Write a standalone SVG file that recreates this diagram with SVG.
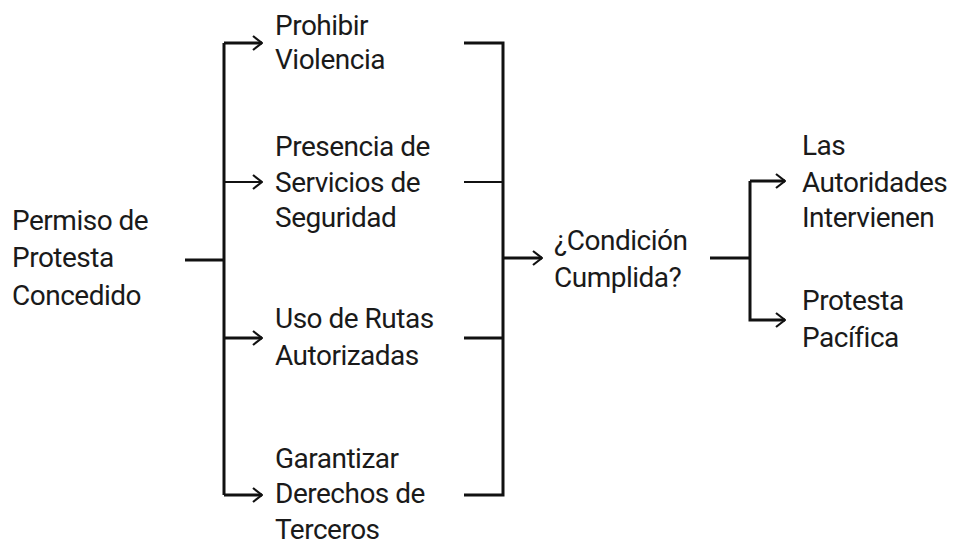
<svg xmlns="http://www.w3.org/2000/svg" width="953" height="544" viewBox="0 0 953 544">
<style>
text{font-family:Roboto,"Liberation Sans",sans-serif;font-size:28px;letter-spacing:-0.5px;fill:#1a1a1a}
.c{fill:none;stroke:#111;stroke-width:3}
.t{stroke-width:2}
</style>
<defs>
<marker id="ah" viewBox="0 0 12 16" refX="11" refY="8" markerWidth="12" markerHeight="16" markerUnits="userSpaceOnUse" orient="auto">
<path d="M2,1 L11,8 L2,15" fill="none" stroke="#111" stroke-width="2.2"/>
</marker>
</defs>
<rect width="953" height="544" fill="#fff"/>
<g id="connectors">
<path class="c" d="M185,260 H224"/>
<path class="c" d="M224,43 V495"/>
<path class="c" d="M224,43 H262" marker-end="url(#ah)"/>
<path class="c t" d="M224,182 H262" marker-end="url(#ah)"/>
<path class="c" d="M224,338 H262" marker-end="url(#ah)"/>
<path class="c" d="M224,495 H262" marker-end="url(#ah)"/>
<path class="c" d="M464,43 H503 V495 H464"/>
<path class="c t" d="M464,182 H503"/>
<path class="c" d="M464,338 H503"/>
<path class="c" d="M503,258 H542" marker-end="url(#ah)"/>
<path class="c" d="M710,258 H750"/>
<path class="c" d="M750,181 V320 H785" marker-end="url(#ah)"/>
<path class="c" d="M750,181 H785" marker-end="url(#ah)"/>
</g>
<g id="n-permiso"><text x="12" y="230">Permiso de</text><text x="12" y="267">Protesta</text><text x="12" y="305">Concedido</text></g>
<g id="n-prohibir"><text x="275" y="35">Prohibir</text><text x="275" y="69">Violencia</text></g>
<g id="n-presencia"><text x="275" y="156">Presencia de</text><text x="275" y="192">Servicios de</text><text x="275" y="227">Seguridad</text></g>
<g id="n-uso"><text x="275" y="328">Uso de Rutas</text><text x="275" y="365">Autorizadas</text></g>
<g id="n-garantizar"><text x="275" y="468">Garantizar</text><text x="275" y="503">Derechos de</text><text x="275" y="539">Terceros</text></g>
<g id="n-condicion"><text x="554" y="250">¿Condición</text><text x="554" y="287">Cumplida?</text></g>
<g id="n-autoridades"><text x="802" y="155">Las</text><text x="802" y="192">Autoridades</text><text x="802" y="227">Intervienen</text></g>
<g id="n-pacifica"><text x="802" y="310">Protesta</text><text x="802" y="347">Pacífica</text></g>
</svg>
